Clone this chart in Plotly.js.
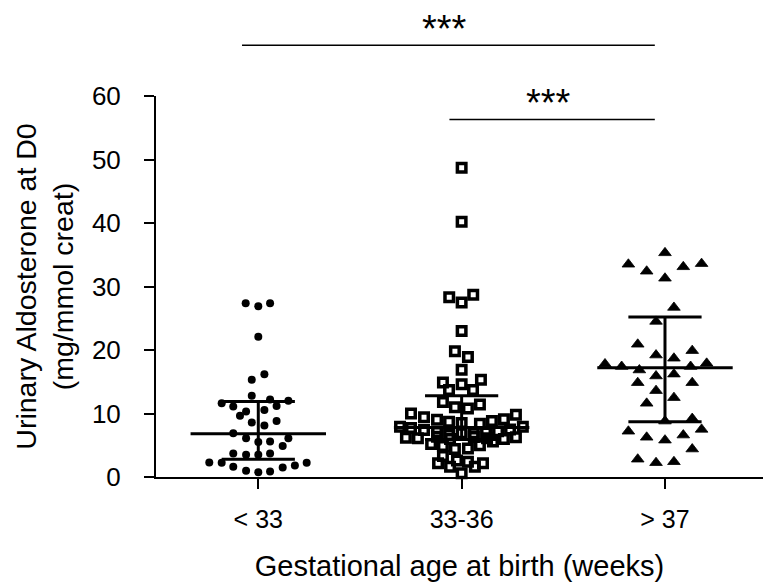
<!DOCTYPE html>
<html>
<head>
<meta charset="utf-8">
<script src="https://cdn.plot.ly/plotly-3.0.1.min.js"></script>
<style>html,body{margin:0;padding:0;background:#fff;}#chart{width:764px;height:586px;}</style>
</head>
<body>
<div id="chart"></div>
<script>
// Categories (x positions 1, 2, 3)
const categories = ['< 33', '33-36', '> 37'];

// Group 1: < 33 weeks (filled circles)
const g1Offset = [-0.062, 0, 0.058, 0, 0.03, -0.032, -0.032, -0.18, -0.123, 0.058, 0.148, 0.09, -0.06, -0.09, 0.03, -0.032, 0.03, 0.09, -0.123, -0.06, 0, 0.058, 0.148, 0.12, -0.123, -0.06, 0, 0.058, -0.241, -0.18, -0.123, -0.06, 0, 0.058, 0.12, 0.18, 0.238];
const g1Values = [27.35, 26.9, 27.35, 22.1, 16.2, 15.3, 12.8, 11.6, 11.1, 12.2, 12.0, 11.2, 10.3, 9.65, 10.55, 8.6, 8.1, 8.8, 6.9, 6.1, 5.5, 5.6, 6.1, 4.9, 3.7, 3.5, 3.5, 3.7, 2.3, 2.25, 1.6, 1.0, 0.75, 0.85, 1.5, 1.8, 2.25];

// Group 2: 33-36 weeks (open squares)
const g2Offset = [0, 0, -0.061, 0, 0.057, 0, -0.033, 0.031, 0, -0.092, 0, 0.095, -0.062, 0.056, -0.092, -0.033, 0.031, 0.09,
  -0.249, -0.185, -0.121, -0.062, 0, 0.09, 0.149, 0.208, 0.267,
  -0.303, -0.249, -0.185, -0.121, -0.062, 0, 0.06, 0.12, 0.179, 0.238, 0.301,
  -0.274, -0.215, -0.121, -0.057, 0.06, 0.125, 0.208, 0.267,
  -0.15, -0.092, -0.033, 0.031, 0.09, 0.154,
  -0.092, -0.116, -0.057, -0.023, 0.031, 0.065, 0.105, 0];
const g2Values = [48.7, 40.2, 28.3, 27.5, 28.7, 23.0, 19.8, 18.9, 16.9, 14.9, 14.6, 15.3, 13.7, 13.7, 11.8, 11.0, 10.8, 11.4,
  10.0, 9.4, 9.0, 8.7, 8.5, 8.4, 8.8, 9.1, 9.8,
  7.9, 7.7, 7.4, 7.1, 6.6, 6.9, 6.9, 7.0, 7.2, 7.5, 7.9,
  6.2, 6.1, 6.35, 6.0, 6.3, 6.1, 6.0, 6.25,
  5.2, 4.9, 4.4, 4.5, 5.0, 5.6,
  3.3, 2.15, 1.6, 2.6, 2.4, 1.6, 2.15, 0.6];

// Group 3: > 37 weeks (filled triangles)
const g3Offset = [0, -0.18, -0.09, 0.09, 0.18, 0, 0.044, -0.044, -0.134, -0.044, 0.044, 0.134, -0.295, -0.213, -0.126, 0.126, 0.205, -0.044, 0.044, -0.134, 0.134, -0.044, 0.044, -0.09, 0, 0.134, -0.18, -0.09, 0, 0.09, 0.18, 0.134, -0.134, -0.044, 0.044];
const g3Values = [35.3, 33.5, 32.4, 33.1, 33.6, 31.3, 26.7, 24.5, 20.9, 19.2, 18.7, 19.9, 17.8, 17.4, 16.85, 17.4, 17.9, 15.9, 16.2, 14.85, 14.85, 13.6, 12.5, 11.6, 8.8, 9.2, 7.2, 6.25, 5.8, 6.6, 7.5, 4.4, 2.8, 2.25, 2.4];

// Summary lines per group: median with interquartile range
const medians = [6.8, 7.8, 17.2];
const upper = [11.9, 12.8, 25.2];
const lower = [2.8, 5.9, 8.7];

// Significance comparisons
const sigStart = [0.92, 1.94];
const sigEnd = [2.95, 2.95];
const sigLevel = [68, 56.3];
const sigLabel = ['***', '***'];

const FONT = '"Liberation Sans", Arial, sans-serif';

function pts(offsets, pos) {
  return offsets.map(o => pos + o);
}

const traces = [
  {x: pts(g1Offset, 1), y: g1Values, type: 'scatter', mode: 'markers', cliponaxis: false,
   marker: {symbol: 'circle', size: 8, color: '#000'}, hoverinfo: 'y', showlegend: false},
  {x: pts(g2Offset, 2), y: g2Values, type: 'scatter', mode: 'markers', cliponaxis: false,
   marker: {symbol: 'square-open', size: 8.5, color: '#000', line: {width: 3.5, color: '#000'}}, hoverinfo: 'y', showlegend: false},
  {x: pts(g3Offset, 3), y: g3Values, type: 'scatter', mode: 'markers', cliponaxis: false,
   marker: {symbol: 'triangle-up', size: 11, color: '#000', line: {width: 0.8, color: '#000'}}, hoverinfo: 'y', showlegend: false}
];

// Median / IQR lines
const lx = [], ly = [];
const medHalf = 0.333, capHalf = 0.18;
for (let i = 0; i < categories.length; i++) {
  const c = i + 1;
  lx.push(c - medHalf, c + medHalf, null); ly.push(medians[i], medians[i], null);
  lx.push(c, c, null); ly.push(lower[i], upper[i], null);
  lx.push(c - capHalf, c + capHalf, null); ly.push(upper[i], upper[i], null);
  lx.push(c - capHalf, c + capHalf, null); ly.push(lower[i], lower[i], null);
}
traces.push({x: lx, y: ly, type: 'scatter', mode: 'lines', line: {color: '#000', width: 3}, hoverinfo: 'skip', showlegend: false, cliponaxis: false});

const yMax = 60;
const shapes = [], annotations = [];
for (let k = 0; k < sigStart.length; k++) {
  shapes.push({type: 'line', xref: 'x', yref: 'paper', x0: sigStart[k], x1: sigEnd[k],
    y0: sigLevel[k] / yMax, y1: sigLevel[k] / yMax, line: {color: '#000', width: 1.5}});
  annotations.push({xref: 'x', yref: 'paper', x: (sigStart[k] + sigEnd[k]) / 2 - 0.02, y: sigLevel[k] / yMax,
    yanchor: 'bottom', xanchor: 'center', yshift: -7, showarrow: false, text: sigLabel[k],
    font: {family: FONT, size: 38, color: '#000'}});
}

const layout = {
  width: 764, height: 586,
  margin: {l: 156, r: 1, t: 96, b: 109, pad: 0},
  paper_bgcolor: '#fff', plot_bgcolor: '#fff',
  font: {family: FONT, color: '#000'},
  showlegend: false,
  xaxis: {
    range: [0.497, 3.482], tickvals: [1, 2, 3], ticktext: categories,
    showgrid: false, zeroline: false, showline: true, linecolor: '#000', linewidth: 2,
    ticks: 'outside', ticklen: 10, tickwidth: 2, tickcolor: '#000',
    tickfont: {family: FONT, size: 25, color: '#000'}, ticklabelstandoff: 9,
    title: {text: 'Gestational age at birth (weeks)', font: {family: FONT, size: 29, color: '#000'}, standoff: 24},
    automargin: false, fixedrange: true
  },
  yaxis: {
    range: [0, 60], dtick: 10, tick0: 0,
    showgrid: false, zeroline: false, showline: true, linecolor: '#000', linewidth: 2,
    ticks: 'outside', ticklen: 10, tickwidth: 2, tickcolor: '#000',
    tickfont: {family: FONT, size: 26, color: '#000'}, ticklabelstandoff: 18,
    title: {text: 'Urinary Aldosterone at D0<br>(mg/mmol creat)', font: {family: FONT, size: 28.5, color: '#000'}, standoff: 10},
    automargin: false, fixedrange: true
  },
  shapes: shapes,
  annotations: annotations
};

Plotly.newPlot('chart', traces, layout, {displayModeBar: false, staticPlot: true});
</script>
</body>
</html>
